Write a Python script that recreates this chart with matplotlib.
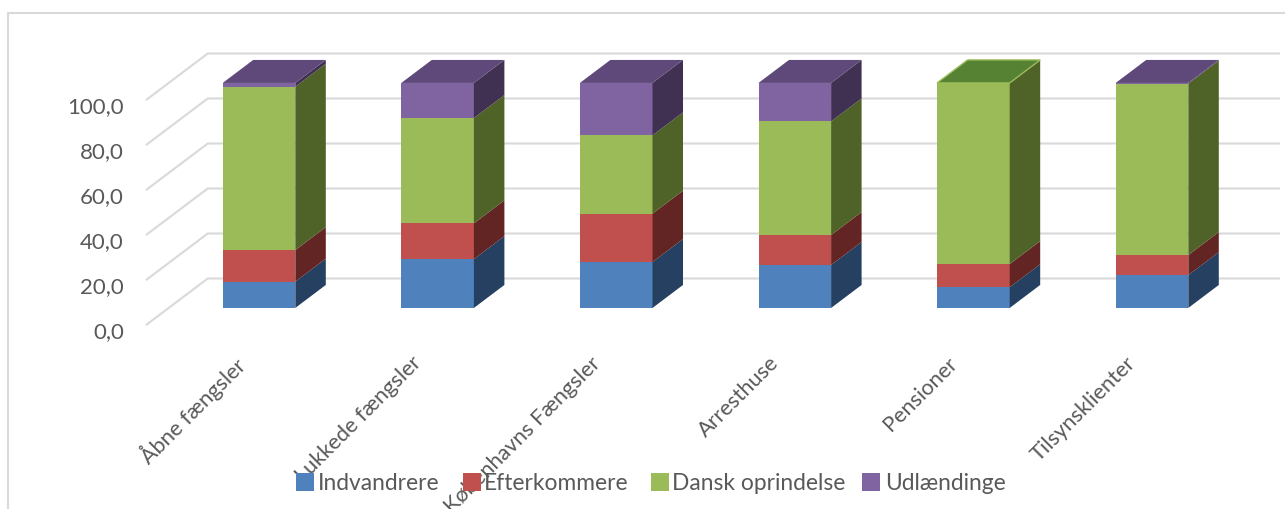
import matplotlib
matplotlib.use("Agg")
import matplotlib.pyplot as plt
from matplotlib.patches import Polygon, Rectangle

plt.rcParams["font.family"] = ["Lato", "DejaVu Sans"]

categories = ["Åbne fængsler", "Lukkede fængsler", "Københavns Fængsler",
              "Arresthuse", "Pensioner", "Tilsynsklienter"]
series_names = ["Indvandrere", "Efterkommere", "Dansk oprindelse", "Udlændinge"]
indvandrere = [11.7, 21.7, 20.4, 19.1, 9.2, 14.6]
efterkommere = [14.0, 15.9, 21.5, 13.3, 10.3, 8.9]
dansk = [72.6, 46.8, 34.8, 50.5, 80.5, 76.2]
udlaendinge = [1.7, 15.6, 23.3, 17.1, 0.0, 0.3]
y_ticks = [0, 20, 40, 60, 80, 100]

front = ["#4F81BD", "#C0504D", "#9BBB59", "#8064A2"]
side = ["#254061", "#632523", "#4F6228", "#403152"]
top = ["#2F5C94", "#8A3330", "#558233", "#5F497A"]
GREY = "#595959"
GRID = "#D9D9D9"

W, H = 1285, 509
fig = plt.figure(figsize=(W / 100, H / 100), dpi=100)
ax = fig.add_axes([0, 0, 1, 1])
ax.set_xlim(0, W)
ax.set_ylim(H, 0)
ax.axis("off")

# oblique projection of the Excel 3D chart
X0, X_STEP, BAR_W = 222.7, 178.6, 72.6
Y0, Y_SCALE = 324.5, 2.25
DX, DY = 61.0, -46.0
Z_FRONT, Z_BACK = 0.36, 0.86
WALL = -54  # left edge of the floor, relative to first bar


def project(pos, value, z):
    """category position, percent, depth (0-1) -> pixel"""
    return (X0 + pos + z * DX - Z_FRONT * DX, Y0 - value * Y_SCALE + z * DY)


# chart frame
ax.plot([8, 8, W], [H, 13, 13], color=GRID, lw=1.5, zorder=1)

# walls and gridlines
for t in y_ticks:
    ax.plot(*zip(project(WALL, t, 0), project(WALL, t, 1), (1279, project(0, t, 1)[1])),
            color=GRID, lw=1.5, zorder=1)
    ax.text(124, project(0, t, 0)[1] + 8, f"{t},0", ha="right", va="center",
            color=GREY, fontsize=16, zorder=2)

# bars
stacks = [indvandrere, efterkommere, dansk, udlaendinge]
for i in range(len(categories)):
    pos = i * X_STEP
    base = 0.0
    for s, values in enumerate(stacks):
        v = values[i]
        y1, y2 = base, base + v
        base = y2
        if v <= 0:
            continue
        p = project(pos, y1, Z_FRONT)
        q = project(pos, y2, Z_FRONT)
        ax.add_patch(Rectangle((p[0], q[1]), BAR_W, p[1] - q[1], fc=front[s], ec="none", zorder=3))
        ax.add_patch(Polygon([project(pos + BAR_W, y1, Z_FRONT), project(pos + BAR_W, y2, Z_FRONT),
                              project(pos + BAR_W, y2, Z_BACK), project(pos + BAR_W, y1, Z_BACK)],
                             fc=side[s], ec="none", zorder=3))
    # lid takes the colour of the top non-empty segment
    s_top = max(s for s, values in enumerate(stacks) if values[i] > 0)
    ec = front[2] if s_top == 2 else "none"
    ax.add_patch(Polygon([project(pos, base, Z_FRONT), project(pos + BAR_W, base, Z_FRONT),
                          project(pos + BAR_W, base, Z_BACK), project(pos, base, Z_BACK)],
                         fc=top[s_top], ec=ec, lw=1, zorder=3))

# category labels, rotated and anchored at their end
for i, name in enumerate(categories):
    ax.text(X0 + i * X_STEP + 10, 353, name, rotation=45, rotation_mode="anchor",
            ha="right", va="top", color=GREY, fontsize=15.7, zorder=4, clip_on=True)

# legend sits on top of the labels
key_x = [296, 463, 651, 862]
text_x = [318, 484, 672, 885]
for name, c, kx, tx in zip(series_names, front, key_x, text_x):
    ax.add_patch(Rectangle((kx, 473), 18, 18, fc=c, ec="none", zorder=6))
    ax.text(tx, 483, name, va="center", ha="left", color=GREY, fontsize=16.4, zorder=6)

fig.savefig("out.png", dpi=100)
